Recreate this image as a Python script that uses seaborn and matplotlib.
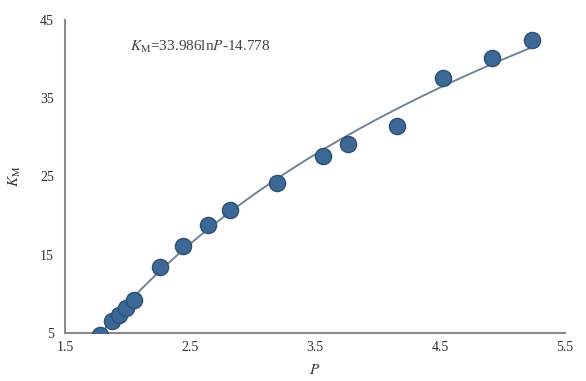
import numpy as np
import pandas as pd
import matplotlib
matplotlib.use("Agg")
import matplotlib.pyplot as plt
import seaborn as sns

# Measured pressure ratio P and corresponding K_M values
P = [1.78, 1.876, 1.932, 1.988, 2.052, 2.26, 2.444, 2.644, 2.82, 3.196,
     3.564, 3.764, 4.156, 4.524, 4.916, 5.236]
K_M = [4.74, 6.55, 7.32, 8.23, 9.26, 13.39, 16.1, 18.8, 20.7, 24.1,
       27.6, 29.1, 31.5, 37.6, 40.1, 42.4]

# Logarithmic fit K_M = a*lnP + b
fit_a = 33.986
fit_b = -14.778

x_ticks = [1.5, 2.5, 3.5, 4.5, 5.5]
y_ticks = [5, 15, 25, 35, 45]

sns.set_style("white")
plt.rcParams["font.family"] = ["Liberation Serif", "DejaVu Serif"]
plt.rcParams["mathtext.fontset"] = "stix"

fig = plt.figure(figsize=(5.86, 3.81), dpi=100)
ax = fig.add_axes([0.111, 0.126, 0.853, 0.822])

df = pd.DataFrame({"P": P, "K_M": K_M})
p_line = np.linspace(min(P), max(P), 200)
fit_df = pd.DataFrame({"P": p_line, "K": fit_a * np.log(p_line) + fit_b})

sns.lineplot(data=fit_df, x="P", y="K", ax=ax, color="#6f8496", linewidth=1.4, zorder=2)
sns.scatterplot(data=df, x="P", y="K_M", ax=ax, s=135, color="#3b6895",
                edgecolor="#2b4f75", linewidth=1.0, zorder=3)

ax.set_xlim(1.5, 5.5)
ax.set_ylim(5, 45)
ax.set_xticks(x_ticks)
ax.set_yticks(y_ticks)
ax.set_xticklabels([f"{t:.1f}" for t in x_ticks])
ax.set_yticklabels([str(t) for t in y_ticks])
ax.tick_params(direction="in", length=4, width=1, colors="#555555", labelsize=10,
               labelcolor="#333333")
ax.tick_params(axis="x", pad=6)
ax.tick_params(axis="y", pad=8)

for side in ["top", "right"]:
    ax.spines[side].set_visible(False)
for side in ["left", "bottom"]:
    ax.spines[side].set_color("#8a8a8a")
    ax.spines[side].set_linewidth(1.5)

ax.set_xlabel("$P$", fontsize=11, labelpad=6, color="#333333")
ax.set_ylabel("$K_{\\rm M}$", fontsize=11, labelpad=12, color="#333333")

ax.text(0.13, 0.9, "$K_{\\rm M}$=33.986ln$P$-14.778", transform=ax.transAxes,
        fontsize=11, color="#444444")

fig.savefig("out.png", dpi=100)
